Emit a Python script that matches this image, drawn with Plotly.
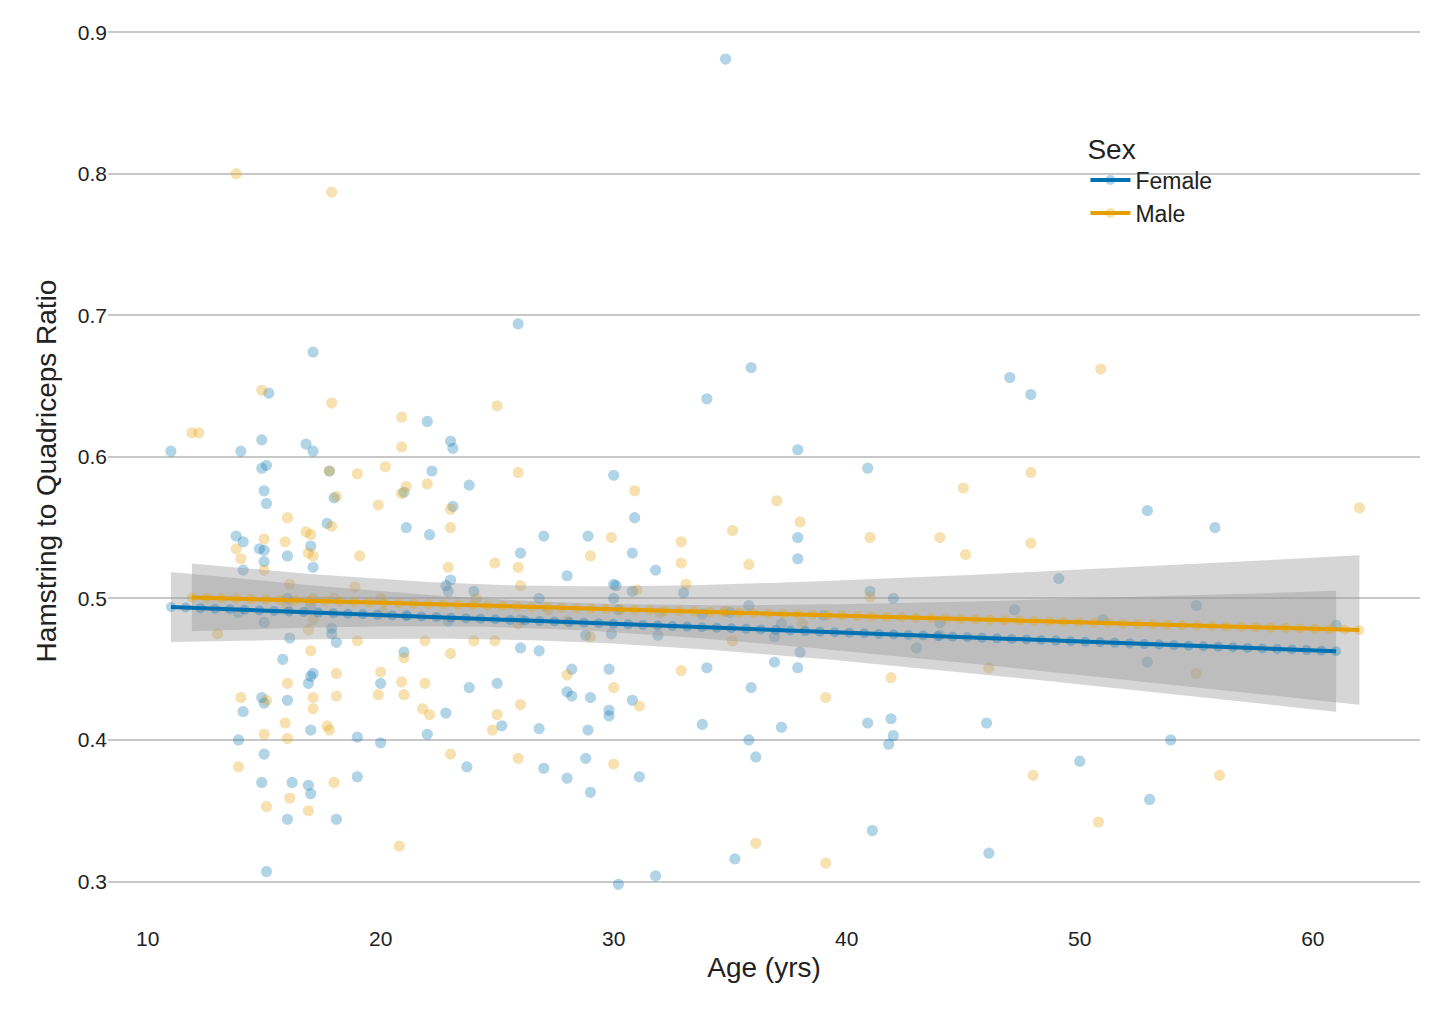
import numpy as np
import plotly.graph_objects as go

female = [(11,0.604),(13.8,0.544),(14,0.604),(14.1,0.54),(14.1,0.52),(13.9,0.49),(14.1,0.42),(13.9,0.40),(14.9,0.612),(14.9,0.592),(15.1,0.594),(15,0.576),(15.1,0.567),(14.8,0.535),(15,0.534),(15,0.526),(15,0.483),(14.9,0.43),(15,0.426),(15,0.39),(14.9,0.37),(15.1,0.307),(15.2,0.645),(16,0.53),(16,0.5),(15.8,0.457),(16.1,0.472),(16,0.428),(16.2,0.37),(16,0.344),(16.8,0.609),(17.1,0.604),(17.1,0.674),(17,0.537),(17.1,0.522),(17,0.495),(17,0.445),(16.9,0.44),(17.1,0.447),(17,0.407),(16.9,0.368),(17,0.362),(17.8,0.59),(18,0.571),(17.7,0.553),(17.9,0.479),(17.9,0.475),(18.1,0.469),(18.1,0.344),(19,0.402),(19,0.374),(20,0.398),(20,0.44),(21,0.575),(21,0.462),(21.1,0.55),(21.1,0.488),(22,0.625),(22.2,0.59),(22.1,0.545),(22,0.404),(23,0.611),(23.1,0.606),(23.1,0.565),(23,0.513),(22.9,0.505),(22.8,0.509),(22.9,0.484),(22.8,0.419),(23.8,0.58),(24,0.505),(23.8,0.437),(23.7,0.381),(25,0.44),(25.2,0.41),(25.9,0.694),(26,0.532),(26,0.485),(26,0.465),(27,0.544),(26.8,0.5),(26.8,0.463),(26.8,0.408),(27,0.38),(28,0.516),(28,0.434),(28.2,0.45),(28.2,0.431),(28,0.373),(28.9,0.544),(28.8,0.474),(28.9,0.407),(28.8,0.387),(29,0.363),(29,0.43),(30,0.587),(30,0.51),(30.1,0.509),(30,0.5),(30.2,0.492),(29.9,0.475),(29.8,0.45),(29.8,0.421),(29.8,0.417),(30.2,0.298),(30.9,0.557),(30.8,0.532),(30.8,0.505),(30.8,0.428),(31.1,0.374),(31.8,0.52),(31.9,0.474),(31.8,0.304),(33,0.504),(33.8,0.489),(33.8,0.411),(34,0.641),(34,0.451),(34.8,0.881),(35,0.49),(35.2,0.316),(35.9,0.663),(35.8,0.495),(35.9,0.437),(35.8,0.4),(36.1,0.388),(36.9,0.455),(36.9,0.473),(37.2,0.482),(37.2,0.409),(37.9,0.605),(37.9,0.543),(37.9,0.528),(38,0.462),(37.9,0.451),(39,0.488),(40.9,0.592),(41,0.505),(40.9,0.412),(41.1,0.336),(42,0.5),(41.9,0.415),(42,0.403),(41.8,0.397),(43,0.465),(44,0.483),(44,0.474),(46,0.412),(46.1,0.32),(47,0.656),(47.2,0.492),(47.9,0.644),(49.1,0.514),(50,0.385),(51,0.485),(52.9,0.562),(52.9,0.455),(53,0.358),(53.9,0.4),(55,0.495),(55.8,0.55),(61,0.481)]

male = [(11.9,0.617),(12.2,0.617),(13,0.475),(13.8,0.8),(13.8,0.535),(14,0.528),(14,0.43),(13.9,0.381),(14.9,0.647),(15,0.542),(15,0.52),(15.1,0.428),(15,0.404),(15.1,0.353),(16,0.557),(15.9,0.54),(16.1,0.51),(16,0.495),(16,0.44),(15.9,0.412),(16,0.401),(16.1,0.359),(16.8,0.547),(17,0.545),(16.9,0.532),(17.1,0.53),(17.1,0.5),(17.1,0.485),(16.9,0.478),(17,0.463),(17.1,0.43),(17.1,0.422),(16.9,0.35),(17.9,0.787),(17.9,0.638),(17.8,0.59),(18.1,0.572),(17.9,0.551),(18,0.5),(18.1,0.447),(18.1,0.431),(17.7,0.41),(17.8,0.407),(18,0.37),(19,0.588),(19.1,0.53),(18.9,0.508),(19,0.47),(19.9,0.566),(20.2,0.593),(20,0.5),(20.1,0.49),(20,0.448),(19.9,0.432),(20.9,0.628),(20.9,0.607),(21.1,0.579),(20.9,0.574),(21,0.458),(20.9,0.441),(21,0.432),(20.8,0.325),(22,0.581),(21.9,0.47),(21.9,0.44),(21.8,0.422),(22.1,0.418),(23,0.563),(23,0.55),(22.9,0.522),(23,0.461),(23,0.39),(24,0.47),(24.1,0.5),(25,0.636),(24.9,0.525),(24.9,0.47),(25,0.418),(24.8,0.407),(25.9,0.589),(25.9,0.522),(26,0.509),(25.9,0.482),(26,0.425),(25.9,0.387),(27.2,0.492),(28,0.484),(28,0.446),(29,0.53),(29,0.473),(29.9,0.543),(30,0.437),(30,0.383),(30.9,0.576),(31,0.506),(31.1,0.424),(32,0.49),(32.9,0.54),(32.9,0.525),(33.1,0.51),(32.9,0.449),(34.8,0.491),(35.1,0.548),(35.1,0.47),(35.8,0.524),(36.1,0.327),(37,0.569),(38,0.554),(38.1,0.482),(39.1,0.43),(39.1,0.313),(41,0.543),(41,0.501),(41.9,0.444),(44,0.543),(45,0.578),(45.1,0.531),(46.1,0.451),(47.9,0.589),(47.9,0.539),(48,0.375),(50.9,0.662),(50.8,0.342),(55,0.447),(56,0.375),(62,0.564)]

groups = [("Female", female, "#0072B2"), ("Male", male, "#E69F00")]

fig = go.Figure()

def fit(x, y):
    x = np.array(x); y = np.array(y); n = len(x)
    b, a = np.polyfit(x, y, 1)
    xs = np.linspace(x.min(), x.max(), 80)
    yh = a + b * xs
    res = y - (a + b * x)
    s = np.sqrt(np.sum(res**2) / (n - 2))
    se = s * np.sqrt(1/n + (xs - x.mean())**2 / np.sum((x - x.mean())**2))
    return xs, yh, se * 1.97

for name, pts, col in groups:
    x = [p[0] for p in pts]; y = [p[1] for p in pts]
    fig.add_trace(go.Scatter(x=x, y=y, mode="markers", showlegend=False,
        marker=dict(color=col, opacity=0.3, size=10, line=dict(color=col, width=1.2))))

for name, pts, col in groups:
    x = [p[0] for p in pts]; y = [p[1] for p in pts]
    xs, yh, ci = fit(x, y)
    fig.add_trace(go.Scatter(x=np.concatenate([xs, xs[::-1]]), y=np.concatenate([yh+ci, (yh-ci)[::-1]]),
        fill="toself", fillcolor="rgba(153,153,153,0.4)", line=dict(width=0), showlegend=False, hoverinfo="skip"))

for name, pts, col in groups:
    x = [p[0] for p in pts]; y = [p[1] for p in pts]
    xs, yh, ci = fit(x, y)
    fig.add_trace(go.Scatter(x=xs, y=yh, mode="lines+markers", name=name,
        line=dict(color=col, width=4), marker=dict(size=10, opacity=0.3)))

fig.update_layout(
    width=1430, height=1022, plot_bgcolor="white", paper_bgcolor="white",
    margin=dict(l=100, r=18, t=10, b=106),
    font=dict(family="Liberation Sans, Arial", size=21, color="#222"),
    legend=dict(title=dict(text="Sex", font=dict(size=28)), x=0.745, y=0.885, xanchor="left", yanchor="top",
                font=dict(size=23), bgcolor="rgba(0,0,0,0)", itemwidth=40, tracegroupgap=8),
)
fig.update_xaxes(range=[8.3, 64.6], tickvals=[10,20,30,40,50,60], showgrid=False, zeroline=False,
                 title=dict(text="Age (yrs)", font=dict(size=28), standoff=8), ticks="", showline=False)
fig.update_yaxes(range=[0.27, 0.91], tickvals=[0.3,0.4,0.5,0.6,0.7,0.8,0.9], gridcolor="#C8C8C8", gridwidth=2,
                 zeroline=False, title=dict(text="Hamstring to Quadriceps Ratio", font=dict(size=28), standoff=12), ticks="")
fig.write_html("out.html")
